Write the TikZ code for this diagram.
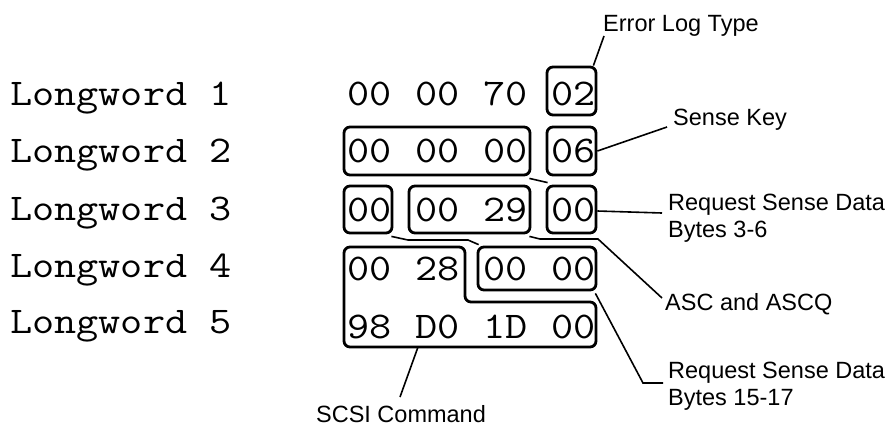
\documentclass[tikz,border=0pt]{standalone}
\usepackage{fontspec}
\newfontfamily\monof[FakeStretch=1.14]{Latin Modern Mono}
\newfontfamily\labf{Liberation Sans}
\begin{document}
\begin{tikzpicture}[x=1pt,y=-1pt,
  mono/.style={anchor=base west,inner sep=0pt,font=\monof\fontsize{37.7pt}{40pt}\selectfont},
  hex/.style={mono},
  lab/.style={inner sep=0pt,font=\labf\fontsize{23.5pt}{26.5pt}\selectfont,align=left},
  hbox/.style={draw,line width=2.8pt,rounded corners=6pt,inner sep=0pt},
  lead/.style={line width=1.6pt},
  conn/.style={line width=1.6pt}]
\useasboundingbox (0,0) rectangle (890,426);
% Longword labels
\node[mono] (lw1) at (10,105) {Longword 1};
\node[mono] (lw2) at (10,162) {Longword 2};
\node[mono] (lw3) at (10,220) {Longword 3};
\node[mono] (lw4) at (10,277) {Longword 4};
\node[mono] (lw5) at (10,333) {Longword 5};
% hex bytes
\node[hex] (h11) at (347,105) {00};
\node[hex] (h12) at (415,105) {00};
\node[hex] (h13) at (483,105) {70};
\node[hex] (h14) at (551,105) {02};
\node[hex] (h21) at (347,162) {00};
\node[hex] (h22) at (415,162) {00};
\node[hex] (h23) at (483,162) {00};
\node[hex] (h24) at (551,162) {06};
\node[hex] (h31) at (347,221) {00};
\node[hex] (h32) at (415,221) {00};
\node[hex] (h33) at (483,221) {29};
\node[hex] (h34) at (551,221) {00};
\node[hex] (h41) at (347,280) {00};
\node[hex] (h42) at (415,280) {28};
\node[hex] (h43) at (483,280) {00};
\node[hex] (h44) at (551,280) {00};
\node[hex] (h51) at (347,338) {98};
\node[hex] (h52) at (415,338) {D0};
\node[hex] (h53) at (483,338) {1D};
\node[hex] (h54) at (551,338) {00};
% boxes
\node[hbox,minimum width=49pt,minimum height=48pt] (b02) at (571.5,91) {};
\node[hbox,minimum width=186pt,minimum height=48pt] (b2) at (437,151) {};
\node[hbox,minimum width=49pt,minimum height=48pt] (b06) at (571.5,151) {};
\node[hbox,minimum width=48pt,minimum height=47pt] (b3a) at (368,209.5) {};
\node[hbox,minimum width=121pt,minimum height=47pt] (b3b) at (469.5,209.5) {};
\node[hbox,minimum width=49pt,minimum height=47pt] (b3c) at (571.5,209.5) {};
\node[hbox,minimum width=118pt,minimum height=43pt] (b4b) at (537,268.5) {};
\draw[line width=2.8pt,rounded corners=6pt] (344,247) -- (465,247) -- (465,302) -- (596,302) -- (596,347) -- (344,347) -- cycle;
\coordinate (scsiA) at (418,347);
% labels
\node[lab,anchor=base west] (lerr) at (603,31) {Error Log Type};
\node[lab,anchor=base west] (lsk) at (673,125) {Sense Key};
\node[lab,anchor=north west] (l36) at (668,194) {Request Sense Data\\Bytes 3-6};
\node[lab,anchor=base west] (lasc) at (665,310) {ASC and ASCQ};
\node[lab,anchor=north west] (l1517) at (668,362) {Request Sense Data\\Bytes 15-17};
\node[lab,anchor=base] (lscsi) at (401,422) {SCSI Command};
% leader end points
\coordinate (eErr) at (604,36);
\coordinate (eSK) at (667,127);
\coordinate (e36) at (662,213);
\coordinate (eASC) at (662,298);
\coordinate (e1517) at (663,383);
\coordinate (eSCSI) at (400,397);
% connectors
\draw[lead] ([xshift=-4pt]b02.north east) -- (eErr);
\draw[lead] (b06.east) -- (eSK);
\draw[lead] ([yshift=-1.5pt]b3c.east) -- (e36);
\draw[lead] ([xshift=-2pt,yshift=-2pt]b3b.south east) -- (540,239) -- (598,239) -- (eASC);
\draw[lead] ([xshift=-2pt,yshift=-2pt]b4b.south east) -- (643,383) -- (e1517);
\draw[lead] (scsiA) -- (eSCSI);
\draw[conn] ([xshift=-2pt,yshift=-2pt]b3a.south east) -- (408,240) -- (468,240) -- ([xshift=2pt,yshift=1pt]b4b.north west);
\draw[conn] ([xshift=-2pt,yshift=-2pt]b2.south east) -- ([xshift=2pt,yshift=2pt]b3c.north west);
\end{tikzpicture}
\end{document}
